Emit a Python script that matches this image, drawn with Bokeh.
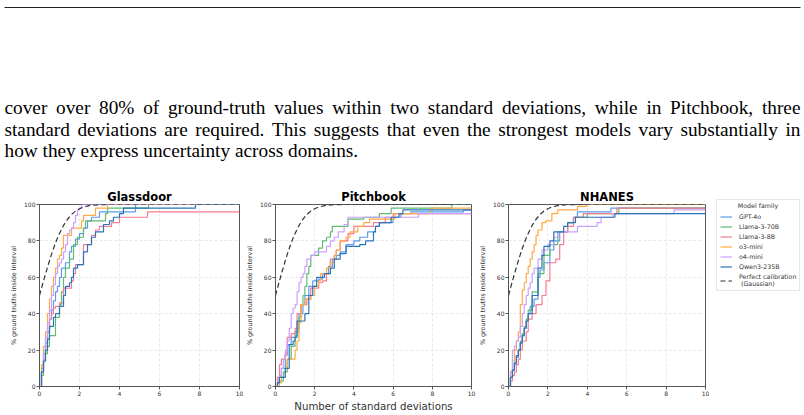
from bokeh.plotting import figure
from bokeh.models import Range1d, Legend, LegendItem, FixedTicker, Title, ColumnDataSource, Label
from bokeh.layouts import column, row
from bokeh.core.properties import value
from bokeh.embed import file_html
from bokeh.resources import INLINE

# ---------------- data ----------------
text_lines = [
    "cover over 80% of ground-truth values within two standard deviations, while in Pitchbook, three",
    "standard deviations are required. This suggests that even the strongest models vary substantially in",
    "how they express uncertainty across domains.",
]
text_justified = [True, True, False]

models = ["GPT-4o", "Llama-3-70B", "Llama-3-8B", "o3-mini", "o4-mini", "Qwen3-235B"]
colors = ["#5b9bea", "#5fba72", "#f77b92", "#ffaa44", "#c9a0ff", "#2a74b8"]
perfect_label = "Perfect calibration\n (Gaussian)"
legend_title = "Model family"

perfect_x = [0, 0.1, 0.2, 0.3, 0.4, 0.5, 0.6, 0.7, 0.8, 0.9, 1.0, 1.2, 1.4, 1.6, 1.8, 2.0, 2.2, 2.5, 3.0, 3.5, 10]
perfect_y = [50, 54, 57.9, 61.8, 65.5, 69.1, 72.6, 75.8, 78.8, 81.6, 84.1, 88.5, 91.9, 94.5, 96.4, 97.7, 98.6, 99.4, 99.9, 100, 100]

# Glassdoor
gd_gpt4o_x = [0, 0.1, 0.2, 0.3, 0.4, 0.5, 0.6, 0.7, 0.8, 0.9, 1.0, 1.1, 1.3, 1.5, 1.6, 1.8, 2.0, 2.2, 2.4, 2.6, 3.0, 4.8, 10]
gd_gpt4o_y = [0, 10, 18, 24, 30, 37, 42, 47, 52, 55, 60, 65, 68, 74, 77, 81, 84, 87, 91, 93, 96, 100, 100]
gd_l70_x = [0, 0.1, 0.2, 0.3, 0.4, 0.5, 0.6, 0.8, 1.0, 1.1, 1.2, 1.3, 1.5, 1.7, 1.9, 2.2, 2.3, 3.2, 3.3, 3.4, 5.45, 10]
gd_l70_y = [0, 6, 14, 18, 22, 28, 28, 38, 45, 52, 60, 65, 70, 78, 82, 87, 91, 91, 95, 98, 100, 100]
gd_l8_x = [0, 0.1, 0.2, 0.3, 0.4, 0.5, 0.6, 0.7, 0.8, 1.0, 1.2, 1.4, 1.6, 1.7, 1.8, 2.0, 2.2, 2.5, 2.6, 2.8, 3.0, 3.6, 4.0, 5.4, 10]
gd_l8_y = [0, 8, 15, 22, 30, 37, 40, 43, 44, 46, 54, 54, 58, 62, 67, 67, 78, 78, 83, 86, 88, 90, 93, 96, 96]
gd_o3_x = [0, 0.1, 0.2, 0.3, 0.4, 0.5, 0.6, 0.7, 0.8, 0.9, 1.0, 1.1, 1.2, 1.4, 1.6, 2.0, 2.1, 2.2, 2.5, 2.8, 3.4, 10]
gd_o3_y = [0, 12, 22, 30, 40, 48, 55, 60, 65, 70, 72, 76, 83, 83, 87, 87, 91, 94, 94, 98, 100, 100]
gd_o4_x = [0, 0.1, 0.2, 0.3, 0.4, 0.5, 0.6, 0.7, 0.8, 0.9, 1.0, 1.1, 1.2, 1.3, 1.4, 1.5, 1.6, 1.7, 1.8, 1.9, 2.0, 2.1, 10]
gd_o4_y = [0, 8, 18, 27, 35, 42, 50, 56, 62, 66, 68, 70, 74, 78, 84, 86, 87, 90, 94, 97, 98, 100, 100]
gd_qwen_x = [0, 0.1, 0.2, 0.3, 0.4, 0.5, 0.6, 0.7, 0.8, 1.0, 1.2, 1.3, 1.5, 1.6, 1.7, 1.9, 2.2, 2.4, 2.6, 2.8, 3.2, 3.5, 3.7, 4.0, 4.2, 7.8, 10]
gd_qwen_y = [0, 8, 14, 20, 26, 33, 33, 38, 40, 44, 50, 55, 57, 60, 65, 67, 74, 78, 82, 85, 89, 91, 93, 95, 98, 100, 100]

# Pitchbook
pb_gpt4o_x = [0, 0.1, 0.2, 0.3, 0.5, 0.6, 0.8, 1.0, 1.2, 1.4, 1.5, 1.7, 1.9, 2.2, 2.4, 2.7, 2.9, 3.1, 3.3, 3.6, 4.0, 4.3, 4.7, 5.1, 5.3, 6.0, 6.4, 6.9, 9.6, 10]
pb_gpt4o_y = [0, 2, 5, 10, 18, 23, 27, 30, 40, 45, 50, 55, 58, 59, 62, 66, 70, 72, 74, 78, 80, 82, 85, 88, 90, 93, 95, 96, 97, 97]
pb_l70_x = [0, 0.2, 0.4, 0.6, 0.8, 1.0, 1.1, 1.2, 1.3, 1.4, 1.5, 1.6, 1.7, 1.8, 2.0, 2.2, 2.4, 2.6, 2.8, 2.9, 3.2, 3.7, 4.5, 5.3, 5.9, 9.0, 10]
pb_l70_y = [0, 3, 8, 15, 22, 28, 32, 38, 45, 50, 55, 62, 66, 72, 72, 76, 80, 82, 85, 88, 88, 92, 93, 95, 98, 100, 100]
pb_l8_x = [0, 0.1, 0.2, 0.3, 0.5, 0.6, 0.8, 1.0, 1.1, 1.3, 1.6, 1.8, 2.2, 2.4, 2.6, 2.8, 3.0, 3.1, 3.3, 3.7, 4.0, 5.0, 5.6, 6.0, 10]
pb_l8_y = [0, 5, 12, 15, 17, 27, 29, 32, 40, 45, 48, 54, 57, 58, 62, 70, 72, 75, 80, 84, 88, 90, 93, 95, 95]
pb_o3_x = [0, 0.2, 0.3, 0.5, 0.6, 0.8, 1.0, 1.1, 1.2, 1.3, 1.5, 1.8, 2.0, 2.2, 2.3, 2.6, 2.8, 3.0, 3.1, 3.3, 3.6, 3.8, 4.2, 4.5, 4.8, 6.1, 7.9, 10]
pb_o3_y = [0, 2, 5, 10, 15, 15, 20, 25, 35, 45, 48, 50, 55, 58, 62, 65, 68, 72, 75, 80, 82, 85, 88, 90, 92, 95, 98, 98]
pb_o4_x = [0, 0.1, 0.2, 0.3, 0.4, 0.5, 0.6, 0.7, 0.8, 0.9, 1.0, 1.1, 1.2, 1.3, 1.4, 1.5, 1.6, 1.8, 2.0, 2.6, 2.8, 3.0, 3.2, 3.5, 3.7, 7.3, 10]
pb_o4_y = [0, 3, 6, 10, 15, 20, 25, 32, 40, 43, 45, 52, 57, 60, 62, 66, 70, 72, 74, 77, 80, 82, 85, 89, 93, 95, 95]
pb_qwen_x = [0, 0.1, 0.2, 0.4, 0.5, 0.7, 0.9, 1.0, 1.1, 1.5, 1.7, 1.9, 2.1, 2.5, 2.8, 3.0, 3.3, 3.6, 4.3, 4.6, 5.0, 5.1, 5.3, 5.9, 6.3, 6.5, 10]
pb_qwen_y = [0, 2, 5, 5, 10, 23, 25, 27, 36, 40, 50, 55, 60, 62, 65, 70, 73, 77, 78, 80, 85, 88, 90, 93, 95, 97, 97]

# NHANES
nh_gpt4o_x = [0, 0.1, 0.2, 0.3, 0.4, 0.5, 0.6, 0.7, 0.8, 0.9, 1.0, 1.1, 1.3, 1.5, 1.6, 1.8, 2.1, 2.3, 2.6, 3.0, 3.3, 3.5, 5.2, 10]
nh_gpt4o_y = [0, 5, 9, 12, 16, 20, 24, 28, 32, 36, 40, 44, 48, 60, 64, 68, 75, 80, 85, 90, 93, 96, 98, 98]
nh_l70_x = [0, 0.1, 0.2, 0.3, 0.4, 0.5, 0.6, 0.7, 0.8, 0.9, 1.0, 1.2, 1.5, 1.8, 2.1, 2.5, 3.0, 3.3, 4.0, 5.6, 10]
nh_l70_y = [0, 5, 9, 13, 17, 20, 25, 29, 33, 37, 42, 52, 62, 72, 78, 85, 90, 93, 95, 98, 98]
nh_l8_x = [0, 0.1, 0.2, 0.3, 0.4, 0.5, 0.6, 0.7, 0.9, 1.0, 1.2, 1.4, 1.7, 1.9, 2.1, 2.4, 2.6, 2.8, 3.0, 3.3, 3.8, 5.5, 10]
nh_l8_y = [0, 3, 6, 8, 12, 15, 20, 25, 30, 37, 40, 45, 50, 58, 68, 70, 78, 85, 88, 93, 95, 98, 98]
nh_o3_x = [0, 0.1, 0.2, 0.3, 0.4, 0.5, 0.6, 0.7, 0.8, 0.9, 1.0, 1.1, 1.2, 1.3, 1.4, 1.5, 1.7, 1.9, 2.2, 2.5, 3.5, 4.0, 10]
nh_o3_y = [0, 8, 14, 20, 25, 30, 45, 53, 57, 62, 66, 70, 74, 78, 83, 86, 90, 91, 95, 97, 99, 100, 100]
nh_o4_x = [0, 0.1, 0.2, 0.3, 0.4, 0.5, 0.6, 0.7, 0.8, 0.9, 1.0, 1.1, 1.2, 1.3, 1.5, 1.7, 2.0, 2.3, 2.5, 3.2, 3.5, 4.5, 4.7, 5.3, 8.4, 10]
nh_o4_y = [0, 8, 20, 22, 25, 27, 33, 40, 45, 50, 54, 57, 62, 65, 70, 75, 78, 82, 85, 85, 88, 90, 93, 95, 97, 97]
nh_qwen_x = [0, 0.1, 0.2, 0.3, 0.4, 0.5, 0.6, 0.7, 0.8, 0.9, 1.0, 1.2, 1.5, 1.7, 1.8, 2.1, 2.3, 2.8, 3.0, 3.4, 5.4, 10]
nh_qwen_y = [0, 5, 9, 13, 17, 20, 24, 28, 32, 36, 40, 50, 65, 72, 77, 80, 85, 88, 90, 93, 95, 95]

panels = [
    ("Glassdoor", [(gd_gpt4o_x, gd_gpt4o_y), (gd_l70_x, gd_l70_y), (gd_l8_x, gd_l8_y),
                   (gd_o3_x, gd_o3_y), (gd_o4_x, gd_o4_y), (gd_qwen_x, gd_qwen_y)]),
    ("Pitchbook", [(pb_gpt4o_x, pb_gpt4o_y), (pb_l70_x, pb_l70_y), (pb_l8_x, pb_l8_y),
                   (pb_o3_x, pb_o3_y), (pb_o4_x, pb_o4_y), (pb_qwen_x, pb_qwen_y)]),
    ("NHANES", [(nh_gpt4o_x, nh_gpt4o_y), (nh_l70_x, nh_l70_y), (nh_l8_x, nh_l8_y),
                (nh_o3_x, nh_o3_y), (nh_o4_x, nh_o4_y), (nh_qwen_x, nh_qwen_y)]),
]

x_ticks = [0, 2, 4, 6, 8, 10]
y_ticks = [0, 20, 40, 60, 80, 100]

# ---------------- top text (justified like the paper page) ----------------
FS = 19.3
TIMES_W = {' ': 250, 'a': 444, 'b': 500, 'c': 444, 'd': 500, 'e': 444, 'f': 333, 'g': 500,
           'h': 500, 'i': 278, 'j': 278, 'k': 500, 'l': 278, 'm': 778, 'n': 500, 'o': 500,
           'p': 500, 'q': 500, 'r': 333, 's': 389, 't': 278, 'u': 500, 'v': 500, 'w': 722,
           'x': 500, 'y': 500, 'z': 444, 'P': 556, 'T': 611, '%': 833, '-': 333, '.': 250,
           ',': 250, '0': 500, '8': 500}


def tw(s):
    return sum(TIMES_W.get(ch, 500) for ch in s) / 1000.0 * FS


LEFT, RIGHT = 4, 800
baselines = [107, 128.5, 150]
wx, wy, wt = [], [], []
for line, just, by in zip(text_lines, text_justified, baselines):
    words = line.split(" ")
    widths = [tw(w) for w in words]
    if just and len(words) > 1:
        gap = (RIGHT - LEFT - sum(widths)) / (len(words) - 1)
    else:
        gap = tw(" ")
    x = LEFT
    for w, ww in zip(words, widths):
        wx.append(x)
        wy.append(by)
        wt.append(w)
        x += ww + gap

top = figure(width=804, height=184, output_backend="svg", toolbar_location=None,
             x_range=Range1d(0, 804), y_range=Range1d(184, 0), title=None,
             min_border=0, outline_line_color=None)
top.axis.visible = False
top.grid.visible = False
top.segment(x0=[4], y0=[7], x1=[800], y1=[7], line_color="#222222", line_width=1.2)
top.text(x="x", y="y", text="t", source=ColumnDataSource(dict(x=wx, y=wy, t=wt)),
         text_font=value("Liberation Serif"), text_font_size=f"{FS}px",
         text_color="black", text_baseline="alphabetic", text_align="left")

# ---------------- panels ----------------
sizes = [(243, 39, 4), (233, 29, 5), (233, 29, 4)]
figs = []
AX = "#555555"
H = 231
for i, (name, curves) in enumerate(panels):
    w, bl, br = sizes[i]
    p = figure(width=w, height=H, output_backend="svg", toolbar_location=None,
               x_range=Range1d(0, 10), y_range=Range1d(0, 100),
               min_border_left=bl, min_border_right=br, min_border_top=20,
               min_border_bottom=29)
    p.title = Title(text=name, align="center", text_font="DejaVu Sans",
                    text_font_size="11.5px", text_font_style="bold", text_color="black",
                    standoff=2, offset=0)
    p.outline_line_color = AX
    p.outline_line_width = 1
    for ax in (p.xaxis[0], p.yaxis[0]):
        ax.axis_line_color = AX
        ax.major_tick_line_color = AX
        ax.major_tick_out = 3
        ax.major_tick_in = 0
        ax.minor_tick_line_color = None
        ax.major_label_text_font = "DejaVu Sans"
        ax.major_label_text_font_size = "6px"
        ax.major_label_text_color = "#333333"
        ax.major_label_standoff = 1
        ax.axis_label_text_font = "DejaVu Sans"
        ax.axis_label_text_font_style = "normal"
        ax.axis_label_text_color = "#333333"
    p.xaxis.ticker = FixedTicker(ticks=x_ticks)
    p.yaxis.ticker = FixedTicker(ticks=y_ticks)
    p.yaxis.axis_label = "% ground truths inside interval"
    p.yaxis.axis_label_text_font_size = "6.4px"
    p.yaxis.axis_label_standoff = 3
    if i == 1:
        p.xaxis.axis_label = "Number of standard deviations"
        p.xaxis.axis_label_text_font_size = "10.2px"
        p.xaxis.axis_label_standoff = 2
    p.grid.grid_line_color = "#e2e2e2"
    p.grid.grid_line_dash = "3 2"
    p.grid.grid_line_width = 0.8
    p.xgrid.ticker = FixedTicker(ticks=x_ticks)
    p.ygrid.ticker = FixedTicker(ticks=y_ticks)

    for (cx, cy), c in zip(curves, colors):
        p.step(cx, cy, mode="after", line_color=c, line_width=1.2)
    p.line(perfect_x, perfect_y, line_color="#333333", line_width=1.2, line_dash="5 3")
    figs.append(p)

# ---------------- legend panel (its own small canvas) ----------------
LW, LFH = 88, 182
lgf = figure(width=95, height=H, output_backend="svg", toolbar_location=None, title=None,
             x_range=Range1d(0, LW), y_range=Range1d(LFH, 0),
             min_border_left=7, min_border_right=0, min_border_top=15,
             min_border_bottom=H - 15 - LFH, outline_line_color=None)
lgf.axis.visible = False
lgf.grid.visible = False
items = []
for m, c, (cx, cy) in zip(models, colors, panels[2][1]):
    r = lgf.step(cx, cy, mode="after", line_color=c, line_width=1.2, visible=False)
    items.append(LegendItem(label=m, renderers=[r]))
rp = lgf.line(perfect_x, perfect_y, line_color="#333333", line_width=1.2, line_dash="5 3",
              visible=False)
items.append(LegendItem(label=perfect_label, renderers=[rp]))
lgf.add_layout(Label(x=41.5, y=6.4, text=legend_title, text_align="center",
                     text_baseline="middle", text_font="DejaVu Sans",
                     text_font_size="6.3px", text_color="#333333"))
lg = Legend(items=items, title=" ", location="top_left")
lg.title_text_font = "DejaVu Sans"
lg.title_text_font_size = "6.3px"
lg.title_standoff = 3
lg.label_text_font = "DejaVu Sans"
lg.label_text_font_size = "6.3px"
lg.label_text_color = "#333333"
lg.label_height = 7
lg.glyph_height = 7
lg.glyph_width = 12
lg.label_standoff = 7
lg.spacing = 3
lg.padding = 3
lg.margin = 0
lg.border_line_color = "#d0d0d0"
lg.border_line_width = 0.8
lg.background_fill_alpha = 0
lgf.add_layout(lg)

layout = column(top, row(figs[0], figs[1], figs[2], column(lgf)))
open("out.html", "w").write(file_html(layout, INLINE))
